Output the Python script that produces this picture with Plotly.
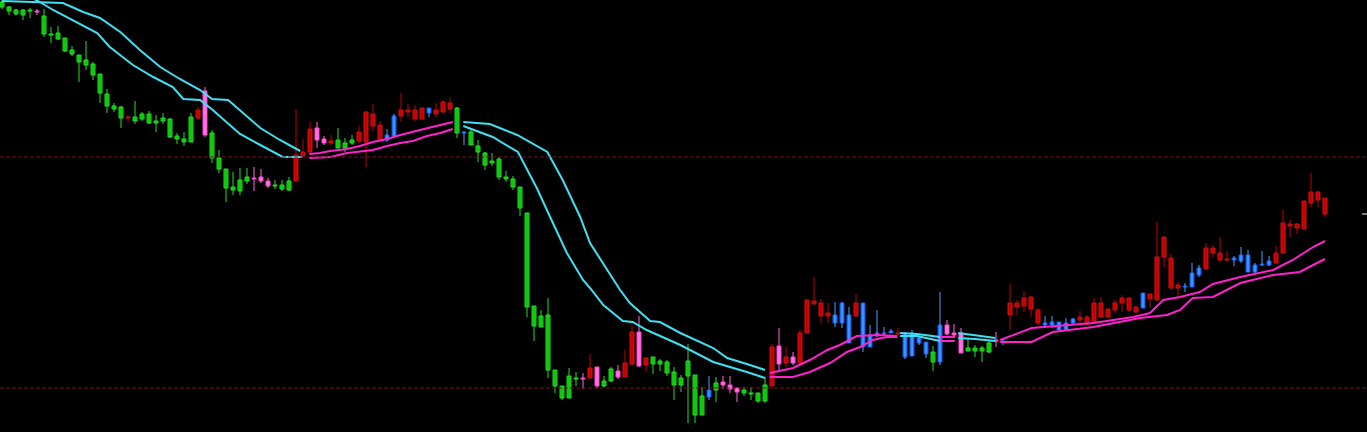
import plotly.graph_objects as go

# ---------------- candle data (price units, 190 bars) ----------------
open_ = [430,425,422,422,422,420,416,398,399,394,
         382,377,372,368,358,338,326,325,314,315,
         318,318,311,314,313,296,293,315,314,297,
         299,274,263,245,252,255,253,251,246,247,
         247,251,251,276,280,292,289,289,292,289,
         292,291,290,306,292,297,316,316,320,313,
         313,324,318,320,323,324,300,300,286,279,
         271,273,255,253,245,219,126,116,117,62,
         46,56,54,53,54,46,51,63,55,55,
         68,66,67,75,71,70,60,54,71,57,
         36,42,49,47,43,40,42,39,39,47,
         46,68,69,69,69,99,128,116,116,117,
         129,117,116,129,97,99,99,101,98,99,
         99,94,90,80,107,98,97,79,84,84,
         84,89,91,91,117,125,126,123,109,109,
         110,110,109,113,112,108,109,115,115,122,
         129,122,120,139,133,132,175,144,144,146,
         159,164,163,179,172,172,174,177,177,167,
         168,171,169,179,206,204,203,229,232,234]
high = [432,426,423,423,424,423,423,405,406,394,
        386,377,391,370,358,343,329,326,317,331,
        320,321,317,319,314,299,300,319,325,345,
        302,282,263,260,264,264,265,263,254,252,
        252,255,323,293,310,310,296,297,304,294,
        297,306,321,328,311,303,318,339,328,327,
        324,324,329,332,335,325,301,302,292,280,
        279,275,261,256,245,219,126,122,134,62,
        46,64,60,59,78,65,56,65,67,82,
        106,116,75,75,73,72,65,57,88,57,
        45,56,55,56,56,44,45,45,39,55,
        88,104,85,80,102,132,155,133,129,130,
        130,125,138,129,107,122,105,103,104,100,
        102,97,90,86,140,112,108,104,93,87,
        86,92,100,94,148,132,141,136,124,116,
        116,110,114,114,121,117,134,135,123,132,
        137,135,126,139,138,210,195,178,150,149,
        169,167,189,187,195,181,176,185,182,169,
        181,176,186,222,212,209,231,259,241,234]
low = [423,417,417,412,414,417,395,389,392,380,
       376,350,362,352,329,319,320,304,310,308,
       311,308,300,308,294,288,286,290,312,295,
       269,259,230,237,237,248,241,249,244,243,
       241,241,251,275,279,284,287,287,284,280,
       287,289,265,300,292,290,294,310,315,311,
       313,315,315,319,319,294,287,287,270,262,
       266,252,250,242,216,115,91,105,54,39,
       32,34,46,43,54,44,45,50,53,55,
       66,65,60,58,61,56,32,40,9,9,
       17,32,30,43,39,30,36,32,29,29,
       46,62,65,67,67,99,128,109,109,105,
       104,89,115,80,85,95,97,99,97,73,
       76,87,74,61,67,97,94,79,81,75,
       70,79,85,87,102,117,120,115,107,105,
       104,102,101,107,108,107,109,114,114,119,
       120,120,119,124,124,132,165,142,135,140,
       145,155,163,175,170,170,166,169,160,159,
       166,166,169,178,195,198,203,225,225,215]
close = [425,421,418,417,421,421,398,397,393,381,
         378,370,367,357,339,326,323,314,315,311,
         313,309,309,311,295,293,290,290,322,341,
         274,263,244,242,241,251,254,255,251,246,
         243,242,277,280,303,304,293,291,284,284,
         289,300,320,318,307,292,296,322,322,322,
         324,319,322,330,329,299,299,287,280,267,
         269,255,253,245,224,125,106,105,62,46,
         34,34,53,54,64,65,46,51,61,69,
         100,100,74,68,68,59,47,47,56,17,
         17,35,42,50,47,44,39,38,31,31,
         85,86,75,75,99,132,131,129,119,109,
         109,89,129,85,85,97,98,99,99,75,
         76,89,78,70,70,107,99,99,81,81,
         81,80,92,90,129,129,134,135,122,107,
         107,102,102,109,115,115,129,129,123,129,
         134,134,125,124,138,175,195,174,147,145,
         145,157,184,184,179,173,172,171,160,160,
         167,167,179,209,208,208,231,240,240,218]
# candle colour class: G green, P pink, R red, B blue
kind = ("GGGGGPGGGG" "GGGGGGGGRG" "GGGGGGGGRP" "GGGGGGPPPG" "GGRRRPPRGG"
        "GRRRRBBRRR" "RBRRRGBGGG" "GGGGGGGGGG" "GGGPRPGGPR" "RPRGGGGGGG"
        "GBGPPPGGGG" "RPRPRRRRRB" "BBRBBBBBRB" "BBBGBPPPGG" "GGPBRRRRRB"
        "BBBBRRRRRR" "RRRBRRRRRB" "BBRRRRBBBB" "BBRRRRRRRR")

# ---------------- band lines (knots: bar index, price) ----------------
cyan1_up_x = [0, 8.7, 11.6, 14, 16.9, 19.7, 22.6, 25.4, 28.3, 30, 32.3, 34, 36.9, 39.7, 42.6]
cyan1_up = [431, 429, 420, 414, 400, 382, 365, 353, 342, 333, 332, 322, 304, 292, 281]
cyan1_lo_x = [0, 5.4, 7.3, 10.1, 13.6, 15.4, 18.7, 21.6, 24.4, 25.9, 28.3, 30.1, 32.6, 34, 36.9, 40.1, 42.9]
cyan1_lo = [450, 430, 422, 412, 399, 385, 367, 355, 345, 333, 332, 322, 306, 298, 287, 275, 275]

mag2_up_x = [43.9, 45.4, 46.9, 49.3, 51.1, 53, 55, 56.9, 59.7, 62.1, 64.4]
mag2_up = [278, 279, 281, 283, 286, 290, 293, 297, 302, 306, 310]
mag2_lo_x = [43.9, 46.9, 49.3, 53, 55, 56.9, 58.7, 60.7, 62.6, 64.4]
mag2_lo = [274, 275, 279, 282, 286, 289, 291, 296, 299, 303]

cyan3_up_x = [65.9, 69.7, 73.6, 77.9, 80.1, 82.6, 84, 88.3, 89.7, 92.6, 94, 96.9, 101.6, 103.6, 106.4, 109]
cyan3_up = [310, 308, 297, 280, 252, 215, 189, 142, 129, 111, 110, 99, 84, 74, 68, 62]
cyan3_lo_x = [65.9, 70.1, 73.7, 76.4, 78.3, 80.7, 83, 84, 85.9, 88.7, 90.1, 92.1, 96.9, 101.6, 106.4, 109]
cyan3_lo = [306, 295, 280, 244, 215, 179, 152, 144, 127, 111, 110, 102, 87, 70, 60, 54]

mag4_up_x = [109.7, 113, 115.4, 117.9, 119.7, 122.1, 125, 127.9]
mag4_up = [59, 64, 72, 82, 87, 96, 97, 96]
mag4_lo_x = [109.7, 113, 115.4, 118.3, 120.7, 122.6, 124.4, 126.4, 127.9]
mag4_lo = [55, 55, 60, 69, 80, 85, 92, 95, 95]

cyan5a_x = [128.3, 130.7, 134]
cyan5a_up = [99, 98, 95]
cyan5a_lo = [96, 96, 91]
mag5b_x = [134, 136.1]
mag5b_up = [95, 95]
mag5b_lo = [91, 91]
cyan5c_x = [136.6, 139, 141.9]
cyan5c_up = [99, 97, 94]
cyan5c_lo = [94, 93, 91]

mag6_up_x = [142.6, 147.1, 155.9, 161.6, 164, 165.9, 168.3, 171.1, 173, 176.9, 181.6, 184.4, 187.3, 189]
mag6_up = [92, 104, 109, 115, 119, 132, 135, 140, 148, 155, 162, 172, 185, 191]
mag6_lo_x = [142.6, 147.1, 150.1, 155.9, 162.6, 166.4, 168.3, 170.1, 173, 176.9, 181.6, 185.4, 187.3, 189]
mag6_lo = [90, 90, 100, 105, 114, 117, 122, 134, 135, 149, 157, 160, 167, 173]

levels = [275, 44]

# ---------------- styles ----------------
FILL = {"G": "#00b000", "P": "#ff7ee6", "R": "#c40000", "B": "#2f86ff"}
EDGE = {"G": "#20e020", "P": "#ff3ccf", "R": "#d41010", "B": "#0a55f0"}
WICK = {"G": "#20e020", "P": "#ff66dd", "R": "#c40000", "B": "#4aa0ff"}
CYAN = "#3fe0f0"
MAG = "#ff22cc"

n = len(open_)
idx = list(range(n))

fig = go.Figure()

# wicks
for k in "GPRB":
    xs, ys = [], []
    for i in idx:
        if kind[i] == k:
            xs += [i, i, None]
            ys += [low[i], high[i], None]
    fig.add_trace(go.Scatter(x=xs, y=ys, mode="lines",
                             line=dict(color=WICK[k], width=1),
                             hoverinfo="skip", showlegend=False))

# bodies
base = [min(o, c) for o, c in zip(open_, close)]
height = [max(abs(o - c), 1) for o, c in zip(open_, close)]
fig.add_trace(go.Bar(x=idx, y=height, base=base, width=0.57,
                     marker=dict(color=[FILL[k] for k in kind],
                                 line=dict(color=[EDGE[k] for k in kind], width=1)),
                     showlegend=False, hoverinfo="skip"))

def band(x, y, color):
    fig.add_trace(go.Scatter(x=x, y=y, mode="lines",
                             line=dict(color=color, width=2),
                             hoverinfo="skip", showlegend=False))

band(cyan1_up_x, cyan1_up, CYAN); band(cyan1_lo_x, cyan1_lo, CYAN)
band(mag2_up_x, mag2_up, MAG); band(mag2_lo_x, mag2_lo, MAG)
band(cyan3_up_x, cyan3_up, CYAN); band(cyan3_lo_x, cyan3_lo, CYAN)
band(mag4_up_x, mag4_up, MAG); band(mag4_lo_x, mag4_lo, MAG)
band(cyan5a_x, cyan5a_up, CYAN); band(cyan5a_x, cyan5a_lo, CYAN)
band(mag5b_x, mag5b_up, MAG); band(mag5b_x, mag5b_lo, MAG)
band(cyan5c_x, cyan5c_up, CYAN); band(cyan5c_x, cyan5c_lo, CYAN)
band(mag6_up_x, mag6_up, MAG); band(mag6_lo_x, mag6_lo, MAG)

for lv in levels:
    fig.add_hline(y=lv, line=dict(color="#7d1020", width=1, dash="4px,2px"))

# current price marker at right edge
x_end = n + 5
fig.add_trace(go.Scatter(x=[x_end - 0.7, x_end], y=[close[-1], close[-1]], mode="lines",
                         line=dict(color="#ffffff", width=1),
                         hoverinfo="skip", showlegend=False))

fig.update_layout(
    width=1367, height=432,
    margin=dict(l=0, r=0, t=0, b=0),
    paper_bgcolor="#000000", plot_bgcolor="#000000",
    xaxis=dict(range=[-2 / 7, x_end], visible=False, fixedrange=True),
    yaxis=dict(range=[0, 432], visible=False, fixedrange=True),
    barmode="overlay",
)

fig.write_html("out.html", config={"displayModeBar": False},
               post_script="document.body.style.margin='0';document.body.style.overflow='hidden';")
